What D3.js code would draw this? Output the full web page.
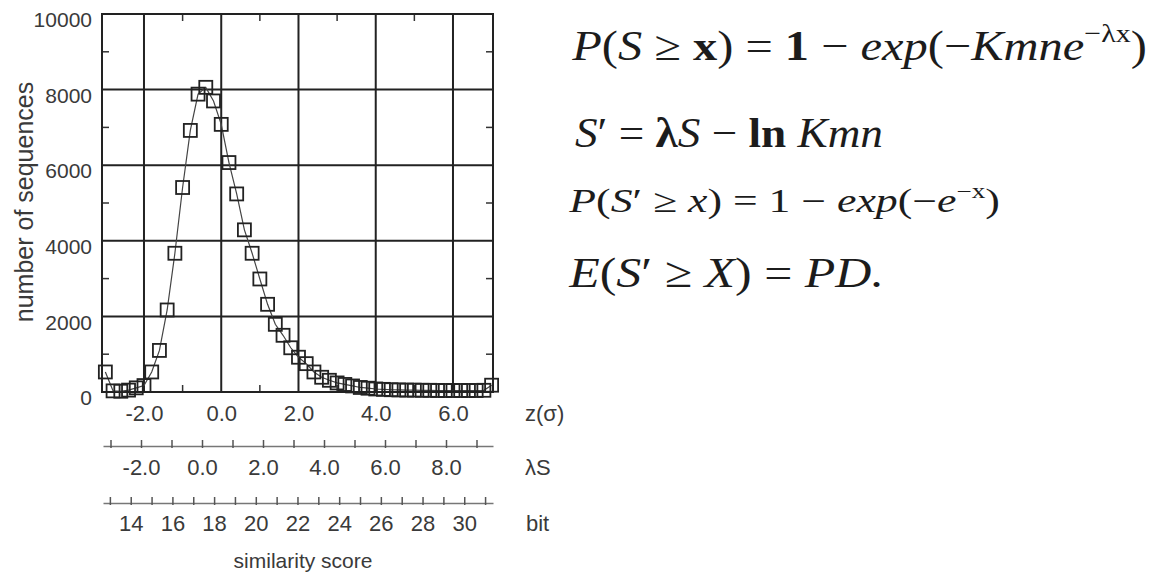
<!DOCTYPE html>
<html>
<head>
<meta charset="utf-8">
<script src="https://cdnjs.cloudflare.com/ajax/libs/d3/7.8.5/d3.min.js"></script>
<style>
  body { margin: 0; background: #fff; }
  svg text { font-family: "Liberation Sans", Arial, sans-serif; fill: #3a3a3a; }
  svg text.eq { font-family: "Liberation Serif", "Times New Roman", serif; fill: #1c1c1c; white-space: pre; }
</style>
</head>
<body>
<div id="chart"></div>
<script>
// data: z(sigma) bins and number of sequences
var zValues = [-3.0, -2.8, -2.6, -2.4, -2.2, -2.0, -1.8, -1.6, -1.4, -1.2,
    -1.0, -0.8, -0.6, -0.4, -0.2, 0.0, 0.2, 0.4, 0.6, 0.8,
    1.0, 1.2, 1.4, 1.6, 1.8, 2.0, 2.2, 2.4, 2.6, 2.8,
    3.0, 3.2, 3.4, 3.6, 3.8, 4.0, 4.2, 4.4, 4.6, 4.8,
    5.0, 5.2, 5.4, 5.6, 5.8, 6.0, 6.2, 6.4, 6.6, 6.8, 7.0];
var counts = [530, 30, 20, 50, 110, 170, 530, 1100, 2170, 3670,
    5410, 6920, 7880, 8060, 7700, 7080, 6070, 5240, 4290, 3670,
    2990, 2320, 1790, 1500, 1170, 920, 750, 530, 390, 310,
    240, 200, 160, 120, 100, 80, 70, 60, 55, 50,
    50, 45, 45, 40, 40, 40, 40, 40, 40, 45, 180];

// tick values
var yTicks = [0, 2000, 4000, 6000, 8000, 10000];
var yGrid = [2000, 4000, 6000, 8000];
var yMinor = [1000, 3000, 5000, 7000, 9000];
var zTicks = [-2, 0, 2, 4, 6];
var zMinor = [-1, 1, 3, 5];
var lambdaTicks = [-3, -2, -1, 0, 1, 2, 3, 4, 5, 6, 7, 8, 9];
var bitTicks = [13, 14, 15, 16, 17, 18, 19, 20, 21, 22, 23, 24, 25, 26, 27, 28, 29, 30, 31];

var svgWidth = 1161;
var svgHeight = 576;

// plot frame
var frame = { left: 102, right: 493, top: 14, bottom: 392 };

var svg = d3.select("#chart")
    .append("svg")
    .attr("width", svgWidth)
    .attr("height", svgHeight);

svg.append("rect").attr("width", svgWidth).attr("height", svgHeight).attr("fill", "#fff");

// scales
var xScale = d3.scaleLinear().domain([-3.087, 7.036]).range([frame.left, frame.right]);
var yScale = d3.scaleLinear().domain([0, 10000]).range([frame.bottom, frame.top]);
var lambdaScale = d3.scaleLinear().domain([-3.246, 9.541]).range([103, 493]);
var bitScale = d3.scaleLinear().domain([12.67, 31.38]).range([103, 493]);

// grid lines
var grid = svg.append("g").attr("stroke", "#222").attr("stroke-width", 2);
grid.selectAll(".hgrid").data(yGrid).enter().append("line")
    .attr("x1", frame.left).attr("x2", frame.right)
    .attr("y1", d => yScale(d)).attr("y2", d => yScale(d));
grid.selectAll(".vgrid").data(zTicks).enter().append("line")
    .attr("y1", frame.top).attr("y2", frame.bottom)
    .attr("x1", d => xScale(d)).attr("x2", d => xScale(d));

// minor ticks pointing inward on all four sides
var minor = svg.append("g").attr("stroke", "#333").attr("stroke-width", 1.5);
minor.selectAll(".mb").data(zMinor).enter().append("line")
    .attr("x1", d => xScale(d)).attr("x2", d => xScale(d))
    .attr("y1", frame.bottom).attr("y2", frame.bottom - 7);
minor.selectAll(".mt").data(zMinor).enter().append("line")
    .attr("x1", d => xScale(d)).attr("x2", d => xScale(d))
    .attr("y1", frame.top).attr("y2", frame.top + 7);
minor.selectAll(".ml").data(yMinor).enter().append("line")
    .attr("y1", d => yScale(d)).attr("y2", d => yScale(d))
    .attr("x1", frame.left).attr("x2", frame.left + 7);
minor.selectAll(".mr").data(yMinor).enter().append("line")
    .attr("y1", d => yScale(d)).attr("y2", d => yScale(d))
    .attr("x1", frame.right).attr("x2", frame.right - 7);

// frame
svg.append("rect")
    .attr("x", frame.left).attr("y", frame.top)
    .attr("width", frame.right - frame.left).attr("height", frame.bottom - frame.top)
    .attr("fill", "none").attr("stroke", "#222").attr("stroke-width", 2);

// data line and square markers
var points = zValues.map((z, i) => ({ z: z, n: counts[i] }));

svg.append("path")
    .datum(points)
    .attr("fill", "none")
    .attr("stroke", "#444")
    .attr("stroke-width", 1.2)
    .attr("d", d3.line().x(d => xScale(d.z)).y(d => yScale(d.n)));

var sq = 13;
svg.append("g").selectAll("rect").data(points).enter().append("rect")
    .attr("x", d => xScale(d.z) - sq / 2)
    .attr("y", d => yScale(d.n) - sq / 2)
    .attr("width", sq).attr("height", sq)
    .attr("fill", "none")
    .attr("stroke", "#222")
    .attr("stroke-width", 1.8);

// y axis labels
var yAxis = svg.append("g")
    .attr("transform", `translate(${frame.left}, 0)`)
    .call(d3.axisLeft(yScale).tickValues(yTicks).tickSize(0).tickPadding(10).tickFormat(d3.format("d")));
yAxis.select(".domain").remove();
yAxis.selectAll("text").attr("dy", "0.6em").style("font-size", "21px").style("font-family", null);

// z axis labels under the frame
var zAxis = svg.append("g")
    .attr("transform", `translate(0, ${frame.bottom})`)
    .call(d3.axisBottom(xScale).tickValues(zTicks).tickSize(0).tickPadding(13).tickFormat(d => d.toFixed(1)));
zAxis.select(".domain").remove();
zAxis.selectAll("text").style("font-size", "22px").style("font-family", null);

// lambda S axis
var lamAxis = svg.append("g")
    .attr("transform", "translate(0, 446)")
    .call(d3.axisBottom(lambdaScale).tickValues(lambdaTicks).tickSizeInner(-6).tickSizeOuter(0).tickPadding(13)
        .tickFormat(d => d % 2 === 0 ? d.toFixed(1) : ""));
lamAxis.select(".domain").attr("stroke", "#777").attr("stroke-width", 1.5);
lamAxis.selectAll(".tick line").attr("stroke", "#555").attr("stroke-width", 1.5).attr("y1", 2);
lamAxis.selectAll("text").style("font-size", "22px").style("font-family", null);

// bit axis
var bitAxis = svg.append("g")
    .attr("transform", "translate(0, 503)")
    .call(d3.axisBottom(bitScale).tickValues(bitTicks).tickSizeInner(-6).tickSizeOuter(0).tickPadding(12)
        .tickFormat(d => d % 2 === 0 ? d : ""));
bitAxis.select(".domain").attr("stroke", "#777").attr("stroke-width", 1.5);
bitAxis.selectAll(".tick line").attr("stroke", "#555").attr("stroke-width", 1.5).attr("y1", 2);
bitAxis.selectAll("text").style("font-size", "22px").style("font-family", null);

// axis names
svg.append("text").attr("x", 525).attr("y", 413).attr("dy", "0.35em")
    .style("font-size", "22px").text("z(σ)");
svg.append("text").attr("x", 525).attr("y", 467).attr("dy", "0.35em")
    .style("font-size", "22px").text("λS");
svg.append("text").attr("x", 526).attr("y", 523).attr("dy", "0.35em")
    .style("font-size", "22px").text("bit");

svg.append("text")
    .attr("x", 303).attr("y", 561).attr("dy", "0.35em")
    .attr("text-anchor", "middle")
    .style("font-size", "21px")
    .text("similarity score");

svg.append("text")
    .attr("transform", "translate(24, 202) rotate(-90)")
    .attr("text-anchor", "middle")
    .attr("dy", "0.35em")
    .style("font-size", "25px")
    .text("number of sequences");

// equations, each stretched to the width it has in the picture
function addEq(parts, size, x0, baseline, x1) {
    var t = svg.append("text").attr("class", "eq").attr("x", 0).attr("y", 0).style("font-size", size + "px");
    var lift = 0;
    parts.forEach(function (p) {
        var ts = t.append("tspan").text(p.s);
        if (p.i) ts.style("font-style", "italic");
        if (p.b) ts.style("font-weight", "bold");
        if (p.sup) {
            ts.style("font-size", (size * 0.62) + "px").attr("dy", -size * 0.42);
            lift = size * 0.42;
        } else if (lift) {
            ts.attr("dy", lift);
            lift = 0;
        }
    });
    var box = t.node().getBBox();
    var k = (x1 - x0) / box.width;
    t.attr("transform", `translate(${x0 - box.x * k}, ${baseline}) scale(${k}, 1)`);
}

addEq([{ s: "P", i: 1 }, { s: "(" }, { s: "S", i: 1 }, { s: " ≥ " }, { s: "x", b: 1 }, { s: ")" }, { s: " = " },
    { s: "1", b: 1 }, { s: " − " }, { s: "exp", i: 1 }, { s: "(" }, { s: "−" }, { s: "Kmne", i: 1 },
    { s: "−λx", sup: 1 }, { s: ")" }], 42, 571, 60, 1147);

addEq([{ s: "S", i: 1 }, { s: "′ = " }, { s: "λ", b: 1 }, { s: "S", i: 1 }, { s: " − " }, { s: "ln", b: 1 },
    { s: " " }, { s: "Kmn", i: 1 }], 42, 575, 147, 883);

addEq([{ s: "P", i: 1 }, { s: "(" }, { s: "S", i: 1 }, { s: "′ ≥ " }, { s: "x", i: 1 }, { s: ")" }, { s: " = 1 − " },
    { s: "exp", i: 1 }, { s: "(−" }, { s: "e", i: 1 }, { s: "−x", sup: 1 }, { s: ")" }], 33, 568, 212, 1000);

addEq([{ s: "E", i: 1 }, { s: "(" }, { s: "S", i: 1 }, { s: "′ ≥ " }, { s: "X", i: 1 }, { s: ")" }, { s: " = " },
    { s: "PD.", i: 1 }], 43, 568, 287, 884);
</script>
</body>
</html>
